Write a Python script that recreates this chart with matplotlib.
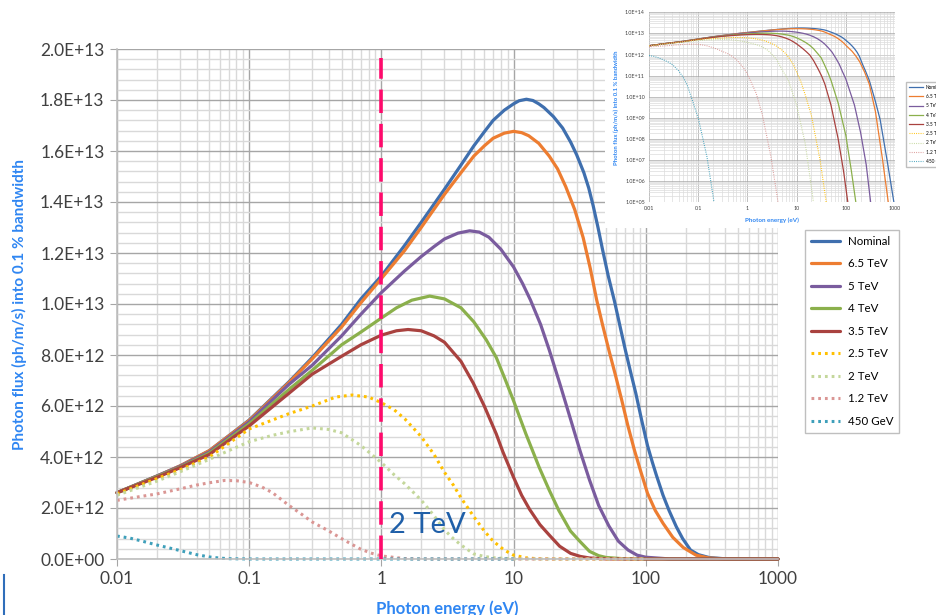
import matplotlib
matplotlib.use("Agg")
import matplotlib.pyplot as plt
from matplotlib.patches import Rectangle
from matplotlib.lines import Line2D
from matplotlib.ticker import (FixedLocator, FuncFormatter, LogLocator,
                               MultipleLocator, NullFormatter)

plt.rcParams['font.family'] = ['Lato', 'DejaVu Sans']

UNIT = 1e12  # flux values below are in units of 1e12 ph/m/s

# photon energy (eV) and flux, one pair per beam energy
e_nom = [0.01, 0.02, 0.03, 0.05, 0.1, 0.2, 0.3, 0.5, 0.7, 1, 1.5, 2, 3, 4, 5, 6, 7, 8.5, 10, 11,
         12.5, 14, 15.5, 17, 20, 23.5, 27, 30, 34, 37, 40, 43.5, 47, 52, 58, 64, 70, 77, 84, 93,
         103, 112, 120, 135, 150, 170, 190, 218, 250, 300, 400, 500, 700, 950, 1000]
f_nom = [2.6, 3.25, 3.65, 4.25, 5.45, 6.95, 7.9, 9.2, 10.2, 11.1, 12.3, 13.2, 14.5, 15.45, 16.2,
         16.75, 17.2, 17.6, 17.85, 17.97, 18.03, 17.98, 17.85, 17.7, 17.35, 16.9, 16.35, 15.85,
         15.15, 14.55, 13.85, 13.0, 12.15, 11.1, 10.1, 9.1, 8.2, 7.3, 6.5, 5.45, 4.45, 3.8,
         3.3, 2.5, 1.9, 1.27, 0.8, 0.35, 0.17, 0.06, 6e-3, 8e-4, 8e-6, 1e-7, 3e-8]

e_65 = [0.01, 0.02, 0.03, 0.05, 0.1, 0.2, 0.3, 0.5, 0.7, 1, 1.5, 2, 3, 4, 5, 6, 7, 8.5, 10, 11.5,
        13, 15.5, 18.6, 21.5, 24.8, 29, 33.6, 38, 42.5, 47, 52.5, 59, 65.7, 73, 82, 92, 103, 118,
        135, 160, 192, 240, 300, 400, 560, 730, 1000]
f_65 = [2.6, 3.25, 3.65, 4.25, 5.43, 6.92, 7.85, 9.1, 10.05, 11.0, 12.1, 13.0, 14.3, 15.15, 15.8,
        16.2, 16.5, 16.7, 16.77, 16.72, 16.6, 16.3, 15.8, 15.3, 14.6, 13.7, 12.6, 11.4, 10.16,
        9.2, 8.2, 7.2, 6.24, 5.25, 4.27, 3.4, 2.58, 1.9, 1.4, 0.85, 0.45, 0.15, 0.04, 2e-3,
        1e-5, 1e-7, 1e-10]

e_5 = [0.01, 0.02, 0.03, 0.05, 0.1, 0.2, 0.3, 0.5, 0.7, 1, 1.5, 2, 2.5, 3, 3.8, 4.65, 5.5, 6.5,
       8, 10, 11.7, 13.4, 16, 18.6, 22.3, 26.9, 32, 37.5, 44, 52.5, 62, 73.5, 86, 100, 150, 200,
       260, 320, 1000]
f_5 = [2.6, 3.25, 3.63, 4.2, 5.38, 6.85, 7.6, 8.75, 9.6, 10.45, 11.3, 11.86, 12.25, 12.55, 12.78,
       12.87, 12.82, 12.62, 12.15, 11.45, 10.8, 10.16, 9.2, 8.2, 6.9, 5.5, 4.2, 3.1, 2.1, 1.3,
       0.7, 0.35, 0.15, 0.07, 4e-3, 2e-4, 6e-6, 1e-7, 1e-12]

e_4 = [0.01, 0.02, 0.03, 0.05, 0.1, 0.2, 0.3, 0.5, 0.7, 1, 1.3, 1.7, 2.32, 3, 4, 5, 6.2, 7.4,
       8.7, 10, 12.4, 15.6, 18.6, 22, 26.9, 31.6, 37.5, 44, 50, 70, 100, 130, 160, 1000]
f_4 = [2.6, 3.23, 3.6, 4.15, 5.3, 6.65, 7.4, 8.4, 8.9, 9.45, 9.85, 10.15, 10.31, 10.2, 9.85, 9.3,
       8.6, 7.9, 7.0, 6.2, 4.9, 3.6, 2.7, 1.9, 1.1, 0.7, 0.3, 0.13, 0.06, 5e-3, 1.5e-4, 3e-6,
       1e-7, 1e-14]

e_35 = [0.01, 0.02, 0.03, 0.05, 0.1, 0.2, 0.3, 0.5, 0.7, 1, 1.3, 1.59, 2, 2.5, 3, 4, 4.95, 6,
        7.4, 8.3, 10, 11.5, 13.2, 15.8, 18.6, 22.3, 27, 32, 37.5, 50, 70, 90, 110, 1000]
f_35 = [2.6, 3.2, 3.58, 4.1, 5.22, 6.5, 7.25, 7.95, 8.4, 8.78, 8.95, 9.0, 8.95, 8.75, 8.5, 7.75,
        6.9, 6.0, 4.9, 4.2, 3.2, 2.5, 1.95, 1.35, 0.94, 0.5, 0.22, 0.1, 0.04, 4e-3, 1e-4, 3e-6,
        1e-7, 1e-16]

e_25 = [0.01, 0.02, 0.03, 0.05, 0.1, 0.15, 0.2, 0.3, 0.45, 0.6, 0.8, 1, 1.25, 1.5, 2, 2.5, 3,
        3.5, 4, 5, 6, 7, 8.5, 10, 12.5, 15, 20, 30, 40, 100]
f_25 = [2.55, 3.15, 3.5, 4.0, 5.1, 5.45, 5.7, 6.0, 6.35, 6.43, 6.35, 6.13, 5.85, 5.5, 4.8, 4.1,
        3.4, 2.9, 2.4, 1.66, 1.1, 0.7, 0.35, 0.15, 0.045, 0.012, 1.3e-3, 1e-5, 1e-7, 1e-20]

e_2 = [0.01, 0.02, 0.03, 0.05, 0.07, 0.1, 0.15, 0.2, 0.3, 0.4, 0.5, 0.7, 1, 1.25, 1.5, 2, 2.5,
       3, 3.5, 4, 5, 6, 7, 10, 15, 22, 100]
f_2 = [2.5, 3.05, 3.42, 3.91, 4.25, 4.6, 4.85, 4.99, 5.14, 5.08, 4.95, 4.45, 3.78, 3.3, 2.95,
       2.31, 1.7, 1.14, 0.8, 0.55, 0.2, 0.1, 0.05, 4e-3, 6e-5, 1e-7, 1e-20]

e_12 = [0.01, 0.015, 0.02, 0.03, 0.04, 0.05, 0.065, 0.08, 0.1, 0.125, 0.15, 0.2, 0.25, 0.3, 0.4,
        0.5, 0.6, 0.7, 0.85, 1, 1.5, 2, 3, 4.2, 100]
f_12 = [2.3, 2.45, 2.55, 2.75, 2.9, 2.99, 3.08, 3.07, 3.0, 2.82, 2.6, 2.1, 1.75, 1.45, 1.1, 0.8,
        0.57, 0.38, 0.22, 0.12, 0.015, 1.5e-3, 1.5e-5, 1e-7, 1e-30]

e_450 = [0.01, 0.0125, 0.015, 0.02, 0.025, 0.03, 0.04, 0.05, 0.06, 0.07, 0.1, 0.15, 0.21, 10]
f_450 = [0.9, 0.82, 0.72, 0.55, 0.43, 0.33, 0.17, 0.08, 0.035, 0.012, 1e-3, 1.5e-5, 1e-7, 1e-40]

labels = ["Nominal", "6.5 TeV", "5 TeV", "4 TeV", "3.5 TeV", "2.5 TeV", "2 TeV", "1.2 TeV",
          "450 GeV"]
energies = [e_nom, e_65, e_5, e_4, e_35, e_25, e_2, e_12, e_450]
fluxes = [f_nom, f_65, f_5, f_4, f_35, f_25, f_2, f_12, f_450]
colors = ["#3F6FAE", "#ED7D31", "#7A5C9E", "#8BB04C", "#A9423F", "#FFC000", "#C4D79B",
          "#DA9694", "#3E9FBA"]
dotted = [False] * 5 + [True] * 4

AXIS_BLUE = "#2F86F2"
TICK_GREY = "#404040"

fig = plt.figure(figsize=(9.36, 6.15), dpi=100)
ax = fig.add_axes([117 / 936, 56 / 615, 661 / 936, 510 / 615])

handles = []
for lab, e, f, c, dot in zip(labels, energies, fluxes, colors, dotted):
    y = [v * UNIT for v in f]
    if dot:
        ln, = ax.plot(e, y, color=c, lw=2.2, dashes=(0.9, 1.3), label=lab, clip_on=False)
    else:
        ln, = ax.plot(e, y, color=c, lw=2.3, label=lab, clip_on=False,
                      solid_joinstyle="round", solid_capstyle="round")
    handles.append(ln)

ax.set_xscale("log")
ax.set_xlim(0.01, 1000)
ax.set_ylim(0, 2e13)
ax.xaxis.set_major_locator(FixedLocator([0.01, 0.1, 1, 10, 100, 1000]))
ax.xaxis.set_major_formatter(FuncFormatter(lambda v, _: f"{v:g}"))
ax.xaxis.set_minor_locator(LogLocator(base=10, subs=range(2, 10), numticks=20))
ax.xaxis.set_minor_formatter(NullFormatter())
ax.yaxis.set_major_locator(MultipleLocator(2e12))
ax.yaxis.set_minor_locator(MultipleLocator(4e11))
ax.yaxis.set_major_formatter(FuncFormatter(lambda v, _: f"{v:.1E}"))
ax.grid(which="major", color="#a6a6a6", lw=1.0)
ax.grid(which="minor", color="#d9d9d9", lw=1.0)
ax.set_axisbelow(True)
ax.tick_params(which="major", length=5, color="#a6a6a6", labelsize=12.5,
               labelcolor=TICK_GREY, pad=4)
ax.tick_params(which="minor", length=0)
for s in ["top", "right"]:
    ax.spines[s].set_visible(False)
for s in ["left", "bottom"]:
    ax.spines[s].set_color("#bfbfbf")
    ax.spines[s].set_linewidth(1.2)

ax.set_xlabel("Photon energy (eV)", color=AXIS_BLUE, fontsize=12, fontweight="bold",
              labelpad=9)
ax.set_ylabel("Photon flux (ph/m/s) into 0.1 % bandwidth", color=AXIS_BLUE, fontsize=11,
              fontweight="bold", labelpad=9)

# 2 TeV marker line
ax.plot([1, 1], [0, 1.965e13], color="#FF0A6C", lw=2.6, dashes=(6.5, 3.0), zorder=5,
        clip_on=False)
ax.text(2.24, 1.33e12, "2 TeV", color="#1F5FA8", fontsize=21, ha="center", va="center",
        zorder=6)

ax.legend(handles=handles, loc="upper left", bbox_to_anchor=(805 / 936, 1 - 230 / 615),
          bbox_transform=fig.transFigure, fontsize=8.3, frameon=True, fancybox=False,
          edgecolor="#bfbfbf", framealpha=1, labelspacing=1.0, handlelength=2.5,
          handletextpad=0.7, borderpad=0.5, borderaxespad=0)

# ---- inset: same spectra on log scale ----
fig.add_artist(Rectangle((605 / 936, 387 / 615), 331 / 936, 228 / 615,
                         transform=fig.transFigure, facecolor="white", edgecolor="none",
                         zorder=2))
axi = fig.add_axes([649 / 936, (615 - 202.3) / 615, 246 / 936, 190 / 615], zorder=3)
ihandles = []
for lab, e, f, c, dot in zip(labels, energies, fluxes, colors, dotted):
    y = [v * UNIT for v in f]
    if dot:
        ln, = axi.plot(e, y, color=c, lw=0.8, dashes=(0.8, 1.2), label=lab)
    else:
        ln, = axi.plot(e, y, color=c, lw=0.9, label=lab)
    ihandles.append(ln)
axi.set_xscale("log")
axi.set_yscale("log")
axi.set_xlim(0.01, 1000)
axi.set_ylim(1e5, 1e14)
axi.xaxis.set_major_locator(FixedLocator([0.01, 0.1, 1, 10, 100, 1000]))
axi.xaxis.set_major_formatter(FuncFormatter(lambda v, _: f"{v:g}"))
axi.xaxis.set_minor_locator(LogLocator(base=10, subs=range(2, 10), numticks=20))
axi.xaxis.set_minor_formatter(NullFormatter())
axi.yaxis.set_major_locator(LogLocator(base=10, numticks=20))
axi.yaxis.set_major_formatter(FuncFormatter(lambda v, _: f"{v:.1E}"))
axi.yaxis.set_minor_locator(LogLocator(base=10, subs=range(2, 10), numticks=20))
axi.yaxis.set_minor_formatter(NullFormatter())
axi.grid(which="major", color="#a6a6a6", lw=0.5)
axi.grid(which="minor", color="#dcdcdc", lw=0.5)
axi.set_axisbelow(True)
axi.tick_params(which="both", length=0, labelsize=3.9, labelcolor=TICK_GREY, pad=3)
for s in axi.spines.values():
    s.set_visible(False)
axi.set_xlabel("Photon energy (eV)", color=AXIS_BLUE, fontsize=4.5, fontweight="bold",
               labelpad=4)
axi.set_ylabel("Photon flux (ph/m/s) into 0.1 % bandwidth", color=AXIS_BLUE, fontsize=4.3,
               fontweight="bold", labelpad=4)
axi.legend(handles=ihandles, loc="upper left", bbox_to_anchor=(906 / 936, 1 - 82 / 615),
           bbox_transform=fig.transFigure, fontsize=3.4, frameon=True, fancybox=False,
           edgecolor="#bfbfbf", framealpha=1, labelspacing=0.9, handlelength=3.0,
           handletextpad=0.6, borderpad=0.6, borderaxespad=0)

# slide fragment at bottom-left
fig.add_artist(Line2D([4 / 936, 4 / 936], [0, 40 / 615], transform=fig.transFigure,
                      color="#2F6EBA", lw=1.5))

fig.savefig("out.png", dpi=100)
